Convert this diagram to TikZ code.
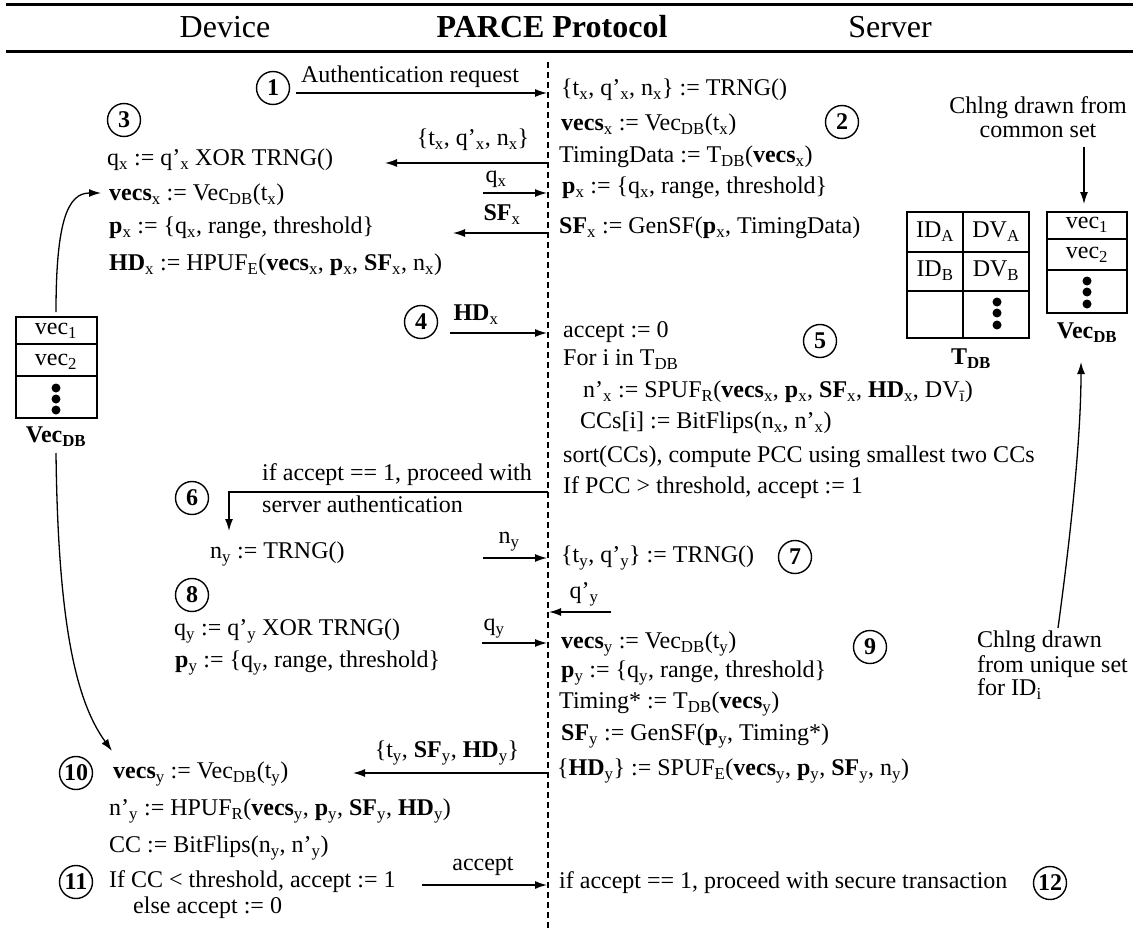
\documentclass[tikz,border=0pt]{standalone}
\usepackage{fontspec}
\setmainfont{Liberation Serif}
\usetikzlibrary{arrows.meta}
\newcommand\ssb[1]{\textsubscript{#1}}
\tikzset{
  txt/.style={anchor=west, inner sep=0pt, text height=17pt, text depth=6pt},
  lbl/.style={inner sep=0pt, text height=17pt, text depth=6pt},
  num/.style={circle, draw, line width=1.4pt, minimum size=33pt, inner sep=0pt, font=\fontsize{24}{24}\selectfont\bfseries},
  arr/.style={-{Latex[length=12pt,width=8pt]}, line width=1.3pt},
  cell/.style={line width=1.3pt},
  dot/.style={fill=black, draw=none, circle, minimum size=9pt, inner sep=0pt},
  rule/.style={line width=3pt},
  head/.style={inner sep=0pt, font=\fontsize{32}{32}\selectfont}
}
\begin{document}
\begin{tikzpicture}[x=1pt,y=-1pt,font=\fontsize{24}{24}\selectfont]
\useasboundingbox (0,0) rectangle (1139,928);
% header
\coordinate (r1a) at (6,5); \coordinate (r1b) at (1133,5);
\coordinate (r2a) at (6,52); \coordinate (r2b) at (1133,52);
\draw[rule] (r1a) -- (r1b);
\draw[rule] (r2a) -- (r2b);
\node[head] (hdev) at (225,27) {Device};
\node[head] (hpar) at (552,27) {\textbf{PARCE Protocol}};
\node[head] (hsrv) at (890,27) {Server};
% dashed separator
\coordinate (dtop) at (548,62); \coordinate (dbot) at (548,928);
\draw[line width=1.2pt, dash pattern=on 6pt off 4pt] (dtop) -- (dbot);

% step 1
\node[num] (n1) at (273,88) {1};
\node[lbl] (l1) at (410,77) {Authentication request};
\coordinate (a1s) at (296,93); \coordinate (a1e) at (547,93);
\draw[arr] (a1s) -- (a1e);

% step 2 (server)
\node[txt] (s2a) at (561,90) {\{t\ssb{x}, q’\ssb{x}, n\ssb{x}\} := TRNG()};
\node[txt] (s2b) at (561,125) {\textbf{vecs}\ssb{x} := Vec\ssb{DB}(t\ssb{x})};
\node[txt] (s2c) at (559,157) {TimingData := T\ssb{DB}(\textbf{vecs}\ssb{x})};
\node[txt] (s2d) at (562,188) {\textbf{p}\ssb{x} := \{q\ssb{x}, range, threshold\}};
\node[txt] (s2e) at (559,228) {\textbf{SF}\ssb{x} := GenSF(\textbf{p}\ssb{x}, TimingData)};
\node[num] (n2) at (842,122) {2};

% step 3 (device)
\node[num] (n3) at (124,120) {3};
\node[txt] (d3a) at (107,160) {q\ssb{x} := q’\ssb{x} XOR TRNG()};
\node[txt] (d3b) at (109,195) {\textbf{vecs}\ssb{x} := Vec\ssb{DB}(t\ssb{x})};
\node[txt] (d3c) at (109,228) {\textbf{p}\ssb{x} := \{q\ssb{x}, range, threshold\}};
\node[txt] (d3d) at (109,265) {\textbf{HD}\ssb{x} := HPUF\ssb{E}(\textbf{vecs}\ssb{x}, \textbf{p}\ssb{x}, \textbf{SF}\ssb{x}, n\ssb{x})};

\node[lbl] (l2) at (473,140) {\{t\ssb{x}, q’\ssb{x}, n\ssb{x}\}};
\coordinate (a2s) at (548,163); \coordinate (a2e) at (385,163);
\draw[arr] (a2s) -- (a2e);
\node[lbl] (l3) at (496,177) {q\ssb{x}};
\coordinate (a3s) at (483,193); \coordinate (a3e) at (547,193);
\draw[arr] (a3s) -- (a3e);
\node[lbl] (l4) at (502,215) {\textbf{SF}\ssb{x}};
\coordinate (a4s) at (548,233); \coordinate (a4e) at (453,233);
\draw[arr] (a4s) -- (a4e);

% step 4
\node[num] (n4) at (421,322) {4};
\node[lbl] (l5) at (476,315) {\textbf{HD}\ssb{x}};
\coordinate (a5s) at (450,333); \coordinate (a5e) at (547,333);
\draw[arr] (a5s) -- (a5e);

% step 5
\node[txt] (s5a) at (563,332) {accept := 0};
\node[txt] (s5b) at (563,360) {For i in T\ssb{DB}};
\node[txt] (s5c) at (583,392) {n’\ssb{x} := SPUF\ssb{R}(\textbf{vecs}\ssb{x}, \textbf{p}\ssb{x}, \textbf{SF}\ssb{x}, \textbf{HD}\ssb{x}, DV\ssb{ī})};
\node[txt] (s5d) at (580,423) {CCs[i] := BitFlips(n\ssb{x}, n’\ssb{x})};
\node[txt] (s5e) at (563,457) {sort(CCs), compute PCC using smallest two CCs};
\node[txt] (s5f) at (563,488) {If PCC > threshold, accept := 1};
\node[num] (n5) at (820,341) {5};

% step 6
\node[num] (n6) at (192,498) {6};
\node[txt] (l6a) at (262,475) {if accept == 1, proceed with};
\node[txt] (l6b) at (262,507) {server authentication};
\coordinate (a6s) at (548,492); \coordinate (a6e) at (229,531);
\draw[arr] (a6s) -| (a6e);
\node[txt] (d6) at (210,553) {n\ssb{y} := TRNG()};
\node[lbl] (l7) at (509,538) {n\ssb{y}};
\coordinate (a7s) at (483,558); \coordinate (a7e) at (547,558);
\draw[arr] (a7s) -- (a7e);

% step 7
\node[txt] (s7) at (561,557) {\{t\ssb{y}, q’\ssb{y}\} := TRNG()};
\node[num] (n7) at (795,557) {7};
\node[lbl] (l8) at (584,593) {q’\ssb{y}};
\coordinate (a8s) at (611,612); \coordinate (a8e) at (549,612);
\draw[arr] (a8s) -- (a8e);

% step 8
\node[num] (n8) at (192,595) {8};
\node[txt] (d8a) at (174,630) {q\ssb{y} := q’\ssb{y} XOR TRNG()};
\node[txt] (d8b) at (175,662) {\textbf{p}\ssb{y} := \{q\ssb{y}, range, threshold\}};
\node[lbl] (l9) at (494,625) {q\ssb{y}};
\coordinate (a9s) at (482,643); \coordinate (a9e) at (547,643);
\draw[arr] (a9s) -- (a9e);

% step 9
\node[txt] (s9a) at (561,643) {\textbf{vecs}\ssb{y} := Vec\ssb{DB}(t\ssb{y})};
\node[txt] (s9b) at (561,672) {\textbf{p}\ssb{y} := \{q\ssb{y}, range, threshold\}};
\node[txt] (s9c) at (559,703) {Timing* := T\ssb{DB}(\textbf{vecs}\ssb{y})};
\node[txt] (s9d) at (561,735) {\textbf{SF}\ssb{y} := GenSF(\textbf{p}\ssb{y}, Timing*)};
\node[txt] (s9e) at (557,770) {\{\textbf{HD}\ssb{y}\} := SPUF\ssb{E}(\textbf{vecs}\ssb{y}, \textbf{p}\ssb{y}, \textbf{SF}\ssb{y}, n\ssb{y})};
\node[num] (n9) at (870,647) {9};

\node[lbl] (l10) at (447,752) {\{t\ssb{y}, \textbf{SF}\ssb{y}, \textbf{HD}\ssb{y}\}};
\coordinate (a10s) at (548,773); \coordinate (a10e) at (353,773);
\draw[arr] (a10s) -- (a10e);

% step 10
\node[num] (n10) at (76,773) {10};
\node[txt] (d10a) at (113,773) {\textbf{vecs}\ssb{y} := Vec\ssb{DB}(t\ssb{y})};
\node[txt] (d10b) at (109,810) {n’\ssb{y} := HPUF\ssb{R}(\textbf{vecs}\ssb{y}, \textbf{p}\ssb{y}, \textbf{SF}\ssb{y}, \textbf{HD}\ssb{y})};
\node[txt] (d10c) at (109,847) {CC := BitFlips(n\ssb{y}, n’\ssb{y})};

% step 11
\node[num] (n11) at (76,882) {11};
\node[txt] (d11a) at (109,882) {If CC < threshold, accept := 1};
\node[txt] (d11b) at (133,908) {else accept := 0};
\node[lbl] (l11) at (483,865) {accept};
\coordinate (a11s) at (422,885); \coordinate (a11e) at (547,885);
\draw[arr] (a11s) -- (a11e);

% step 12
\node[txt] (s12) at (559,883) {if accept == 1, proceed with secure transaction};
\node[num] (n12) at (1050,883) {12};

% server databases
\node[lbl] (cc1) at (1038,108) {Chlng drawn from};
\node[lbl] (cc2) at (1038,132) {common set};
\coordinate (acs) at (1084,147); \coordinate (ace) at (1084,204);
\draw[arr] (acs) -- (ace);

% T_DB table
\draw[cell] (907,212) rectangle (1029,338);
\draw[cell] (963,212) -- (963,338);
\draw[cell] (907,252) -- (1029,252);
\draw[cell] (907,291) -- (1029,291);
\node[lbl] (tia) at (935,232) {ID\ssb{A}};
\node[lbl] (tda) at (996,232) {DV\ssb{A}};
\node[lbl] (tib) at (935,271) {ID\ssb{B}};
\node[lbl] (tdb) at (996,271) {DV\ssb{B}};
\node[dot] (td1) at (997,302) {};
\node[dot] (td2) at (997,313) {};
\node[dot] (td3) at (997,325) {};
\node[lbl] (tlab) at (971,359) {\textbf{T\textsubscript{DB}}};

% Vec_DB server
\draw[cell] (1047,212) rectangle (1127,313);
\draw[cell] (1047,239) -- (1127,239);
\draw[cell] (1047,270) -- (1127,270);
\node[lbl] (sv1) at (1087,223) {vec\ssb{1}};
\node[lbl] (sv2) at (1087,253) {vec\ssb{2}};
\node[dot] (sd1) at (1087,281) {};
\node[dot] (sd2) at (1087,292) {};
\node[dot] (sd3) at (1087,304) {};
\node[lbl] (svlab) at (1087,333) {\textbf{Vec\textsubscript{DB}}};

% unique set note
\node[txt] (u1) at (977,642) {Chlng drawn};
\node[txt] (u2) at (977,667) {from unique set};
\node[txt] (u3) at (977,690) {for ID\ssb{i}};
\coordinate (aus) at (1058,628); \coordinate (aue) at (1081,362);
\draw[arr] (aus) .. controls (1070,540) and (1081,440) .. (aue);

% Vec_DB device
\draw[cell] (16,317) rectangle (97,418);
\draw[cell] (16,344) -- (97,344);
\draw[cell] (16,376) -- (97,376);
\node[lbl] (dv1) at (56,329) {vec\ssb{1}};
\node[lbl] (dv2) at (56,360) {vec\ssb{2}};
\node[dot] (dd1) at (56,388) {};
\node[dot] (dd2) at (56,399) {};
\node[dot] (dd3) at (56,410) {};
\node[lbl] (dvlab) at (56,437) {\textbf{Vec\textsubscript{DB}}};

\coordinate (c1s) at (56,312); \coordinate (c1e) at (101,193);
\draw[arr] (c1s) .. controls (56,220) and (68,193) .. (c1e);
\coordinate (c2s) at (56,453); \coordinate (c2e) at (112,751);
\draw[arr] (c2s) .. controls (58,620) and (75,700) .. (c2e);
\end{tikzpicture}
\end{document}
